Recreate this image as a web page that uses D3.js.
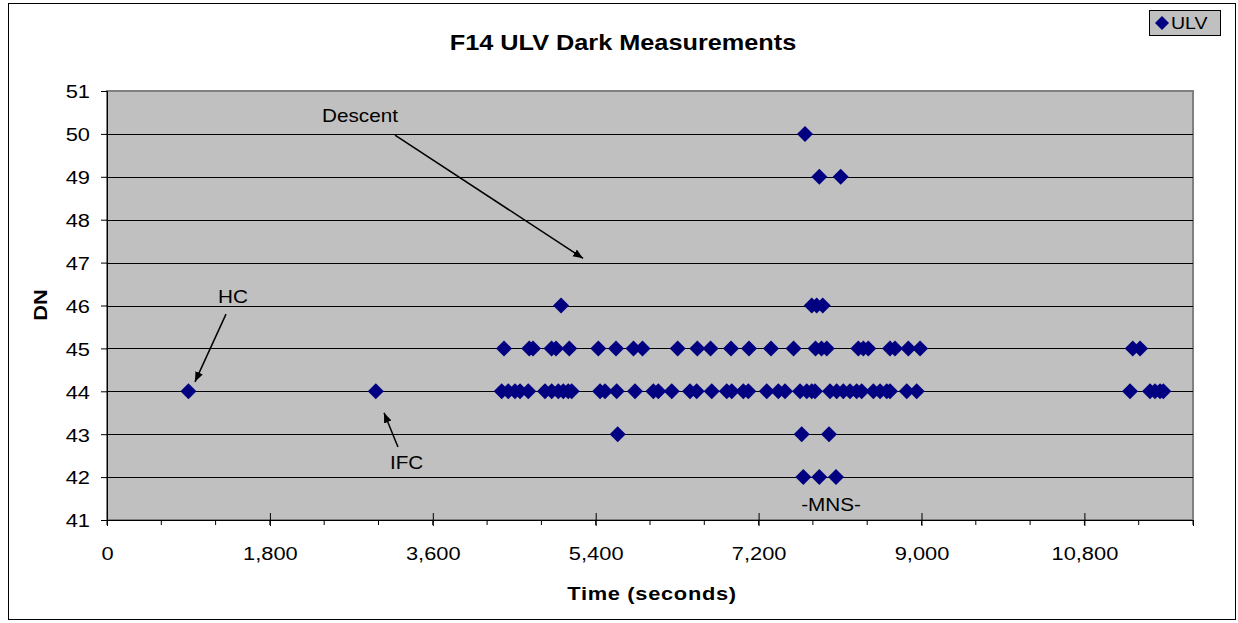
<!DOCTYPE html>
<html>
<head>
<meta charset="utf-8">
<script src="https://cdn.jsdelivr.net/npm/d3@7"></script>
<style>
  html, body { margin: 0; padding: 0; background: #fff; }
  svg { display: block; font-family: "Liberation Sans", Arial, sans-serif; }
</style>
</head>
<body>
<svg id="chart" width="1238" height="623"></svg>
<script>
// ---- Data (seconds, DN) ----
const row44Times = [900, 2970, 4361, 4434, 4508, 4564, 4655, 4840, 4914, 4987, 5042, 5097, 5135, 5448, 5503, 5632, 5834, 6037, 6092, 6240, 6442, 6516, 6682, 6848, 6903, 7031, 7086, 7290, 7418, 7492, 7658, 7732, 7787, 7823, 7989, 8063, 8136, 8210, 8284, 8339, 8468, 8542, 8616, 8652, 8837, 8947, 11304, 11525, 11580, 11636, 11672];
const row45Times = [4387, 4666, 4707, 4912, 4961, 5108, 5429, 5624, 5818, 5917, 6306, 6523, 6669, 6895, 7094, 7337, 7586, 7829, 7895, 7953, 8302, 8357, 8412, 8652, 8707, 8854, 8984, 11334, 11415];
const row46Times = [5017, 7787, 7842, 7909];
const row43Times = [5643, 7676, 7978];
const row42Times = [7694, 7871, 8055];
const row49Times = [7871, 8107];
const row50Times = [7713];

const xTicks = [0, 1800, 3600, 5400, 7200, 9000, 10800];
const xMinorTicks = d3.range(0, 12001, 600);
const yTicks = [41, 42, 43, 44, 45, 46, 47, 48, 49, 50, 51];

const titleText = "F14 ULV Dark Measurements";
const xTitle = "Time (seconds)";
const yTitle = "DN";
const seriesName = "ULV";

// annotations: label text with data coordinates, and arrows [x1,y1,x2,y2]
const labels = [
  { text: "Descent", x: 2376, y: 50.28, anchor: "start" },
  { text: "HC", x: 1227, y: 46.05, anchor: "start" },
  { text: "IFC", x: 3127, y: 42.2, anchor: "start" },
  { text: "-MNS-", x: 8000, y: 41.2, anchor: "middle" }
];
const arrows = [
  [3182, 49.97, 5260, 47.1],
  [1315, 45.8, 972, 44.22],
  [3215, 42.7, 3061, 43.5]
];

// build points table
const points = [];
[[44, row44Times], [45, row45Times], [46, row46Times], [43, row43Times],
 [42, row42Times], [49, row49Times], [50, row50Times]].forEach(([v, ts]) => {
  ts.forEach(t => points.push({ t, v }));
});

// ---- Layout ----
const K = 1.15; // horizontal glyph stretch seen in the reference
const svg = d3.select("#chart");
const L = 107, R = 1193, T = 91, B = 520;
const x = d3.scaleLinear().domain([0, 12000]).range([L, R]);
const y = d3.scaleLinear().domain([41, 51]).range([B, T]);

function placeText(sel, px, py, extra) {
  sel.attr("x", 0).attr("y", 0)
     .attr("transform", `translate(${px},${py})${extra || ""} scale(${K},1)`);
  return sel;
}

// outer border
svg.append("rect").attr("x", 8.5).attr("y", 3.5).attr("width", 1227).attr("height", 616)
  .attr("fill", "#fff").attr("stroke", "#000").attr("stroke-width", 1);

// plot background
svg.append("rect").attr("x", L).attr("y", T).attr("width", R - L).attr("height", B - T)
  .attr("fill", "#C0C0C0").attr("stroke", "#808080").attr("stroke-width", 2);

// gridlines
svg.append("g").selectAll("line").data(yTicks.slice(1, -1)).join("line")
  .attr("x1", L).attr("x2", R)
  .attr("y1", d => Math.round(y(d)) + 0.5).attr("y2", d => Math.round(y(d)) + 0.5)
  .attr("stroke", "#000").attr("stroke-width", 1);

// y axis
const yAxis = d3.axisLeft(y).tickValues(yTicks).tickSize(6).tickPadding(11).tickFormat(d3.format("d"));
const gy = svg.append("g").attr("transform", `translate(${L},0)`).call(yAxis);
gy.select(".domain").attr("stroke", "#000");
gy.selectAll(".tick line").attr("stroke", "#000");
gy.selectAll(".tick text").attr("font-size", 19).attr("fill", "#000")
  .attr("font-family", "'Liberation Sans', Arial, sans-serif")
  .attr("dy", "0.36em")
  .each(function () { placeText(d3.select(this), -17, 0); });

// x axis minor ticks
svg.append("g").selectAll("line").data(xMinorTicks).join("line")
  .attr("x1", d => x(d)).attr("x2", d => x(d))
  .attr("y1", B).attr("y2", B + 5).attr("stroke", "#000");

// x axis
const xAxis = d3.axisBottom(x).tickValues(xTicks).tickSize(6).tickPadding(16).tickFormat(d3.format(","));
const gx = svg.append("g").attr("transform", `translate(0,${B})`).call(xAxis);
gx.select(".domain").attr("stroke", "#000");
gx.selectAll(".tick line").attr("stroke", "#000").attr("y1", -7).attr("y2", 6);
gx.selectAll(".tick text").attr("font-size", 19).attr("fill", "#000")
  .attr("font-family", "'Liberation Sans', Arial, sans-serif")
  .attr("dy", null)
  .each(function () { placeText(d3.select(this), 0, 40); });

// points
const diamond = d3.symbol().type(d3.symbolSquare).size(128);
svg.append("g").selectAll("path").data(points).join("path")
  .attr("d", diamond)
  .attr("transform", d => `translate(${x(d.t)},${y(d.v)}) rotate(45)`)
  .attr("fill", "#000080");

// arrows
const defs = svg.append("defs");
defs.append("marker").attr("id", "arrow").attr("viewBox", "0 0 10 10")
  .attr("refX", 10).attr("refY", 5).attr("markerWidth", 10).attr("markerHeight", 10)
  .attr("markerUnits", "userSpaceOnUse").attr("orient", "auto")
  .append("path").attr("d", "M0,1 L10,5 L0,9 Z").attr("fill", "#000");
svg.append("g").selectAll("line").data(arrows).join("line")
  .attr("x1", d => x(d[0])).attr("y1", d => y(d[1]))
  .attr("x2", d => x(d[2])).attr("y2", d => y(d[3]))
  .attr("stroke", "#000").attr("stroke-width", 1.5).attr("marker-end", "url(#arrow)");

// labels
svg.append("g").selectAll("text").data(labels).join("text")
  .attr("text-anchor", d => d.anchor)
  .attr("font-size", 18).attr("fill", "#000").text(d => d.text)
  .each(function (d) { placeText(d3.select(this), x(d.x), y(d.y)); });

// title
placeText(svg.append("text"), 623, 50).attr("text-anchor", "middle")
  .attr("font-size", 22).attr("font-weight", "bold").text(titleText);

// axis titles
placeText(svg.append("text"), 652, 600).attr("text-anchor", "middle")
  .attr("font-size", 19).attr("font-weight", "bold").attr("letter-spacing", 0.6).text(xTitle);
placeText(svg.append("text"), 47, 305, " rotate(-90)").attr("text-anchor", "middle")
  .attr("font-size", 19).attr("font-weight", "bold").text(yTitle);

// legend
const lg = svg.append("g");
lg.append("rect").attr("x", 1149.5).attr("y", 10.5).attr("width", 71).attr("height", 25)
  .attr("fill", "#C0C0C0").attr("stroke", "#000");
lg.append("path").attr("d", d3.symbol().type(d3.symbolSquare).size(98))
  .attr("transform", "translate(1162,23) rotate(45)").attr("fill", "#000080");
placeText(lg.append("text"), 1171, 29).attr("font-size", 17).text(seriesName);
</script>
</body>
</html>
